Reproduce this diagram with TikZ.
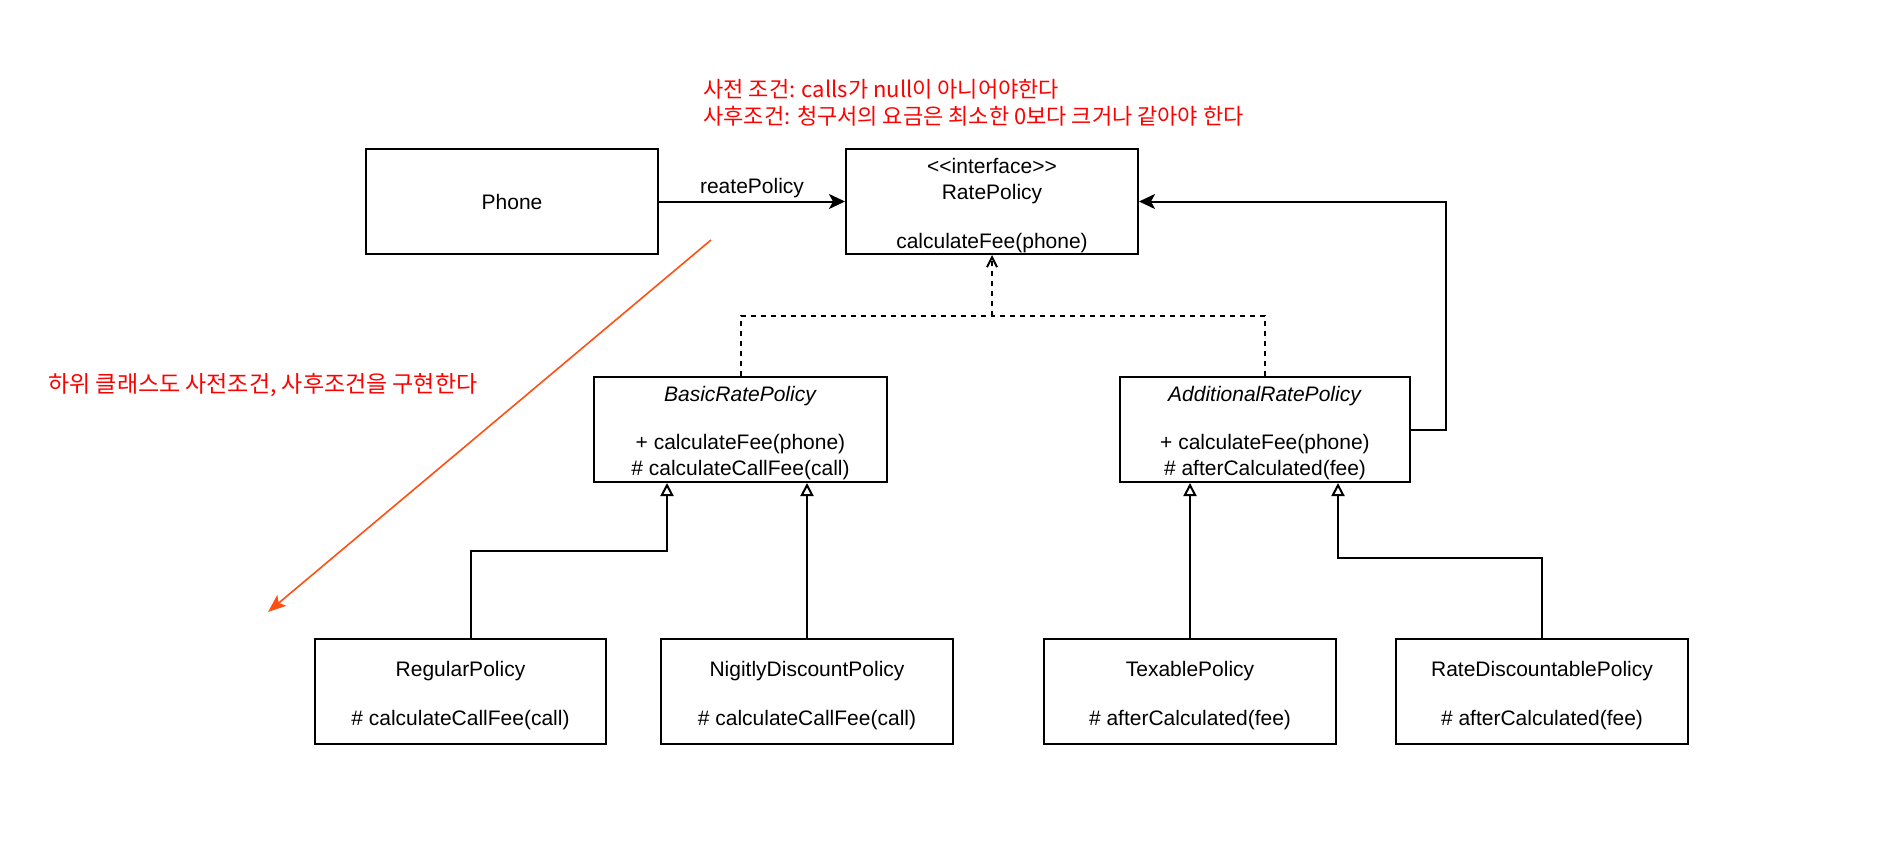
\documentclass[tikz,border=0pt]{standalone}
\usepackage{fontspec}
\setmainfont{Liberation Sans}
\newfontfamily\kr{Noto Sans CJK KR}
\usetikzlibrary{arrows.meta}
\definecolor{arrorange}{RGB}{255,80,20}
\newcommand\mystrut{\rule{0pt}{11.4pt}}
\begin{document}
\begin{tikzpicture}[x=0.5pt,y=-0.5pt,
  box/.style={draw=black, line width=1pt, minimum width=146pt, minimum height=52.5pt,
    align=center, inner sep=0pt, font=\fontsize{10.5}{13}\selectfont},
  conn/.style={draw=black, line width=1pt},
  filled/.style={conn, -{Stealth[length=8pt,width=7.5pt,inset=2pt]}},
  impl/.style={conn, dash pattern=on 2.75pt off 2.25pt, -{Straight Barb[length=5pt,width=5pt,line width=1pt]}},
  inh/.style={conn, -{Triangle[open,length=6.5pt,width=6.5pt,fill=white]}},
  note/.style={text=red, align=left, inner sep=0pt, font=\kr\fontsize{11}{13.5}\selectfont},
  orangearrow/.style={draw=arrorange, line width=0.8pt, -{Stealth[length=9pt,width=7pt,inset=2pt]}}
]
\path[use as bounding box] (0,0) rectangle (1890,856);

% notes
\node[note, anchor=west] (pre) at (703,102.5) {사전 조건: calls가 null이 아니어야한다\\사후조건: 청구서의 요금은 최소한 0보다 크거나 같아야 한다};
\node[note, anchor=west, font=\kr\fontsize{11.5}{13.5}\selectfont] (sub) at (48,385.5) {하위 클래스도 사전조건, 사후조건을 구현한다};

% boxes
\node[box] (Phone) at (512,201.5) {\rule{0pt}{8.6pt}Phone};
\node[box] (Rate) at (992,201.5) {\mystrut<\kern0pt<interface>\kern0pt>\\RatePolicy\\[11.5pt]calculateFee(phone)};
\node[box, minimum width=146.5pt] (Basic) at (740.5,429.5) {\mystrut\textit{BasicRatePolicy}\\[11pt]+ calculateFee(phone)\\\# calculateCallFee(call)};
\node[box, minimum width=145pt] (Add) at (1265,429.5) {\mystrut\textit{AdditionalRatePolicy}\\[11pt]+ calculateFee(phone)\\\# afterCalculated(fee)};
\node[box, minimum width=145.5pt] (Regular) at (460.5,691.5) {\mystrut RegularPolicy\\[11.5pt]\# calculateCallFee(call)};
\node[box] (Night) at (807,691.5) {\mystrut NigitlyDiscountPolicy\\[11.5pt]\# calculateCallFee(call)};
\node[box] (Tax) at (1190,691.5) {\mystrut TexablePolicy\\[11.5pt]\# afterCalculated(fee)};
\node[box] (Disc) at (1542,691.5) {\mystrut RateDiscountablePolicy\\[11.5pt]\# afterCalculated(fee)};

% connectors
\draw[filled] (Phone.east) -- node[above=-1.9pt, font=\fontsize{10.5}{13}\selectfont] {reatePolicy} (Rate.west);

\coordinate (j) at (992,316);
\draw[conn, dash pattern=on 2.75pt off 2.25pt] (Basic.north) |- (j);
\draw[conn, dash pattern=on 2.75pt off 2.25pt] (Add.north) |- (j);
\draw[impl] (j) -- (Rate.south);

\coordinate (c) at (1446,0);
\draw[filled] (Add.east) -- (Add.east -| c) |- (Rate.east);

\draw[inh] ([xshift=5pt]Regular.north) -- ++(0,-87) -| ([xshift=-36.75pt]Basic.south);
\draw[inh] (Night.north) -- (Night.north |- Basic.south);
\draw[inh] (Tax.north) -- (Tax.north |- Add.south);
\draw[inh] (Disc.north) -- ++(0,-80) -| ([xshift=36.5pt]Add.south);

\coordinate (o1) at (711,240);
\coordinate (o2) at (268,612);
\draw[orangearrow] (o1) -- (o2);
\end{tikzpicture}
\end{document}
